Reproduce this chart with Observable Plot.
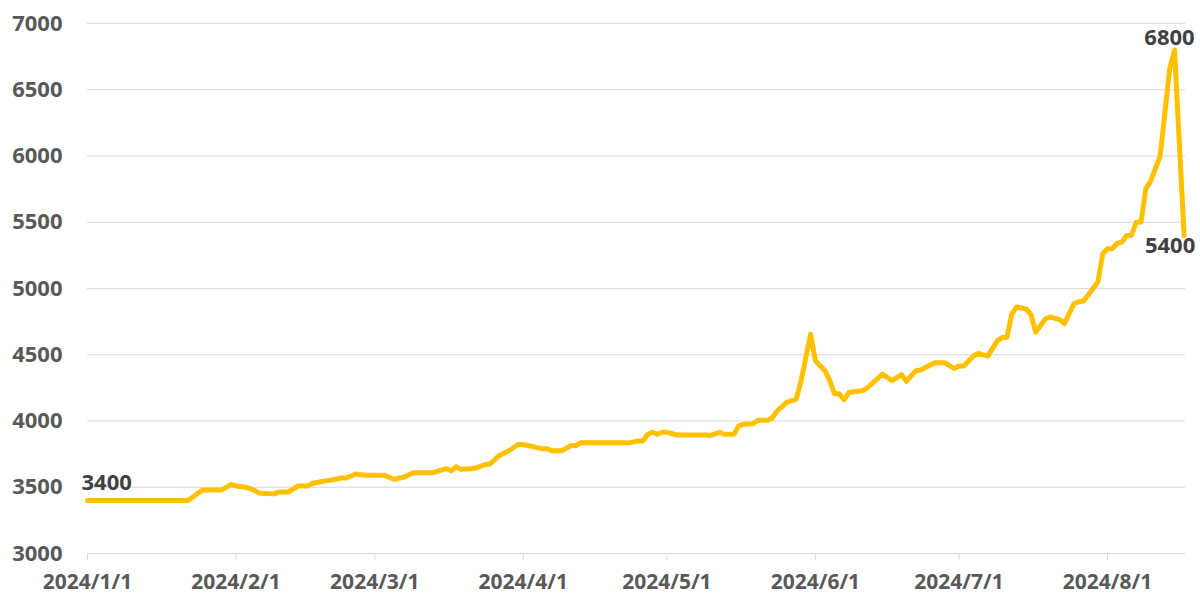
<!DOCTYPE html>
<html>
<head>
<meta charset="utf-8">
<script src="https://cdn.jsdelivr.net/npm/d3@7"></script>
<script src="https://cdn.jsdelivr.net/npm/@observablehq/plot@0.6"></script>
<style>
  html, body { margin: 0; padding: 0; background: #fff; }
  #chart { width: 1200px; height: 605px; }
</style>
</head>
<body>
<div id="chart"></div>
<script>
const dates = [
  "2024-01-01","2024-01-22","2024-01-25","2024-01-29","2024-01-31","2024-02-01","2024-02-03","2024-02-04",
  "2024-02-06","2024-02-09","2024-02-10","2024-02-12","2024-02-14","2024-02-16","2024-02-17","2024-02-20",
  "2024-02-21","2024-02-23","2024-02-24","2024-02-26","2024-02-28","2024-03-03","2024-03-05","2024-03-07",
  "2024-03-09","2024-03-13","2024-03-14","2024-03-16","2024-03-17","2024-03-18","2024-03-19","2024-03-21",
  "2024-03-22","2024-03-24","2024-03-25","2024-03-27","2024-03-29","2024-03-31","2024-04-01","2024-04-02",
  "2024-04-05","2024-04-06","2024-04-07","2024-04-09","2024-04-11","2024-04-12","2024-04-13","2024-04-23",
  "2024-04-25","2024-04-26","2024-04-27","2024-04-28","2024-04-29","2024-04-30","2024-05-01","2024-05-03",
  "2024-05-09","2024-05-10","2024-05-12","2024-05-13","2024-05-15","2024-05-16","2024-05-17","2024-05-19",
  "2024-05-20","2024-05-22","2024-05-23","2024-05-24","2024-05-26","2024-05-28","2024-05-29","2024-05-30",
  "2024-05-31","2024-06-01","2024-06-03","2024-06-04","2024-06-05","2024-06-06","2024-06-07","2024-06-08",
  "2024-06-11","2024-06-12","2024-06-15","2024-06-17","2024-06-19","2024-06-20","2024-06-22","2024-06-23",
  "2024-06-24","2024-06-26","2024-06-28","2024-06-30","2024-07-01","2024-07-02","2024-07-04","2024-07-05",
  "2024-07-07","2024-07-09","2024-07-10","2024-07-11","2024-07-12","2024-07-13","2024-07-15","2024-07-16",
  "2024-07-17","2024-07-19","2024-07-20","2024-07-22","2024-07-23","2024-07-25","2024-07-26","2024-07-27",
  "2024-07-29","2024-07-30","2024-07-31","2024-08-01","2024-08-02","2024-08-03","2024-08-04","2024-08-05",
  "2024-08-06","2024-08-07","2024-08-08","2024-08-09","2024-08-10","2024-08-12","2024-08-14","2024-08-15",
  "2024-08-17"
];
const prices = [
  3400,3400,3480,3480,3520,3510,3500,3490,
  3455,3450,3465,3465,3510,3510,3530,3550,
  3555,3570,3570,3600,3590,3590,3560,3575,
  3610,3610,3620,3640,3625,3655,3635,3640,
  3645,3670,3675,3740,3775,3825,3820,3815,
  3790,3790,3775,3775,3815,3815,3835,3835,
  3850,3850,3900,3915,3900,3915,3915,3895,
  3895,3890,3915,3900,3900,3965,3975,3980,
  4005,4005,4025,4075,4140,4165,4300,4480,
  4655,4455,4380,4305,4205,4205,4160,4215,
  4230,4255,4355,4305,4350,4300,4380,4385,
  4405,4440,4440,4395,4415,4415,4490,4510,
  4490,4605,4630,4630,4805,4860,4845,4805,
  4670,4770,4785,4765,4735,4885,4900,4905,
  5000,5050,5260,5300,5300,5340,5350,5400,
  5400,5500,5500,5750,5810,6000,6660,6800,
  5400
];
const yTicks = [3000,3500,4000,4500,5000,5500,6000,6500,7000];
const xTickDates = ["2024-01-01","2024-02-01","2024-03-01","2024-04-01","2024-05-01","2024-06-01","2024-07-01","2024-08-01"];
const labelled = [
  {date: "2024-01-01", text: "3400", pos: "start"},
  {date: "2024-08-15", text: "6800", pos: "peak"},
  {date: "2024-08-17", text: "5400", pos: "end"}
];

const data = dates.map((d, i) => ({date: new Date(d), value: prices[i]}));
const valueOf = new Map(data.map(d => [+d.date, d.value]));
const lab = labelled.map(l => ({date: new Date(l.date), value: valueOf.get(+new Date(l.date)), text: l.text, pos: l.pos}));
const fmt = d => `${d.getUTCFullYear()}/${d.getUTCMonth() + 1}/${d.getUTCDate()}`;
const font = "'Open Sans', 'DejaVu Sans', sans-serif";

const chart = Plot.plot({
  width: 1200,
  height: 605,
  marginLeft: 87,
  marginRight: 15,
  marginTop: 23,
  marginBottom: 52,
  style: {fontFamily: font, background: "#fff", overflow: "visible"},
  x: {type: "utc", domain: [new Date("2024-01-01"), new Date(Date.UTC(2024, 7, 17, 7))]},
  y: {domain: [3000, 7000]},
  marks: [
    Plot.gridY(yTicks.slice(1), {stroke: "#d9d9d9", strokeOpacity: 1, strokeWidth: 1}),
    Plot.ruleY([3000], {stroke: "#d9d9d9", strokeWidth: 1}),
    Plot.axisY(yTicks, {tickSize: 0, tickPadding: 25, tickFormat: d => String(d), fontSize: 22, fontWeight: "bold", fill: "#595959", label: null}),
    Plot.axisX(xTickDates.map(d => new Date(d)), {tickSize: 7, stroke: "#d9d9d9", tickPadding: 14, tickFormat: fmt, fontSize: 21, fontWeight: "bold", fill: "#595959", label: null}),
    Plot.line(data, {x: "date", y: "value", stroke: "#FFC000", strokeWidth: 5, strokeLinejoin: "round", strokeLinecap: "round"}),
    Plot.text(lab.filter(d => d.pos === "start"), {x: "date", y: "value", text: "text", textAnchor: "start", lineAnchor: "bottom", dx: -6, dy: -11, fontSize: 22, fontWeight: "bold", fill: "#404040"}),
    Plot.text(lab.filter(d => d.pos === "peak"), {x: "date", y: "value", text: "text", textAnchor: "middle", lineAnchor: "bottom", dx: -5, dy: -5, fontSize: 22, fontWeight: "bold", fill: "#404040"}),
    Plot.text(lab.filter(d => d.pos === "end"), {x: "date", y: "value", text: "text", textAnchor: "middle", lineAnchor: "top", dx: -14, dy: 2, fontSize: 22, fontWeight: "bold", fill: "#404040"})
  ]
});
document.getElementById("chart").appendChild(chart);
</script>
</body>
</html>
